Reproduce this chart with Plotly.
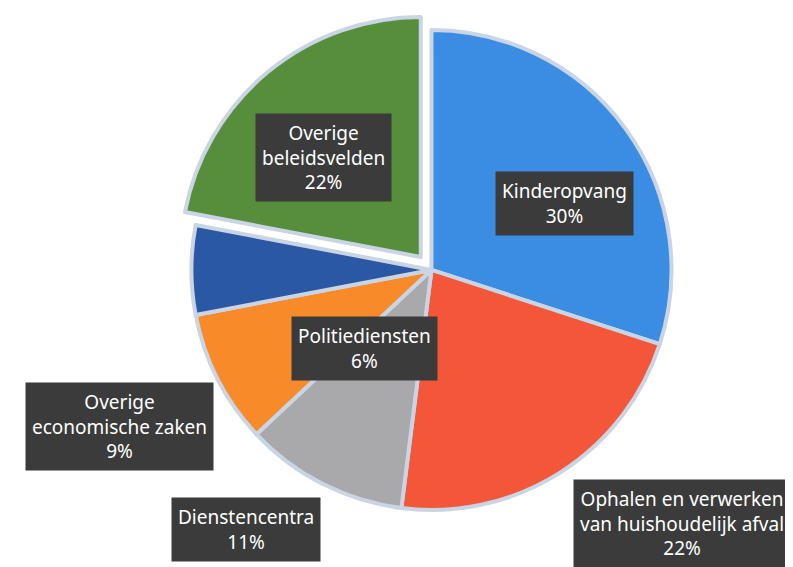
import plotly.graph_objects as go

# budget shares (percent), clockwise from 12 o'clock
categories = [
    "Kinderopvang",
    "Ophalen en verwerken<br>van huishoudelijk afval",
    "Dienstencentra",
    "Overige<br>economische zaken",
    "Politiediensten",
    "Overige<br>beleidsvelden",
]
shares = [30, 22, 11, 9, 6, 22]

colors = ["#3a8de2", "#f4563a", "#a9a9ab", "#f98a2a", "#2b58a4", "#568e3c"]
pulls = [0, 0, 0, 0, 0, 0.07]

# label box centres in paper coords (layout only)
label_pos = [
    (0.702, 0.656),
    (0.850, 0.090),
    (0.300, 0.081),
    (0.140, 0.262),
    (0.450, 0.399),
    (0.398, 0.737),
]

fig = go.Figure(
    go.Pie(
        labels=[c.replace("<br>", " ") for c in categories],
        values=shares,
        sort=False,
        direction="clockwise",
        rotation=0,
        pull=pulls,
        marker=dict(colors=colors, line=dict(color="#c9d4e4", width=4)),
        textinfo="none",
        hoverinfo="label+percent",
        domain=dict(x=[0.204, 0.864], y=[0.085, 0.991]),
        showlegend=False,
    )
)

for (x, y), cat, val in zip(label_pos, categories, shares):
    fig.add_annotation(
        x=x, y=y, xref="paper", yref="paper",
        xanchor="center", yanchor="middle",
        text=f"{cat}<br>{val}%",
        showarrow=False,
        font=dict(family="Noto Sans", size=19, color="white"),
        bgcolor="#3b3b3b",
        borderpad=6,
        align="center",
    )

fig.update_layout(
    width=793,
    height=567,
    margin=dict(l=0, r=0, t=0, b=0),
    paper_bgcolor="white",
    plot_bgcolor="white",
)

fig.write_html("out.html")
